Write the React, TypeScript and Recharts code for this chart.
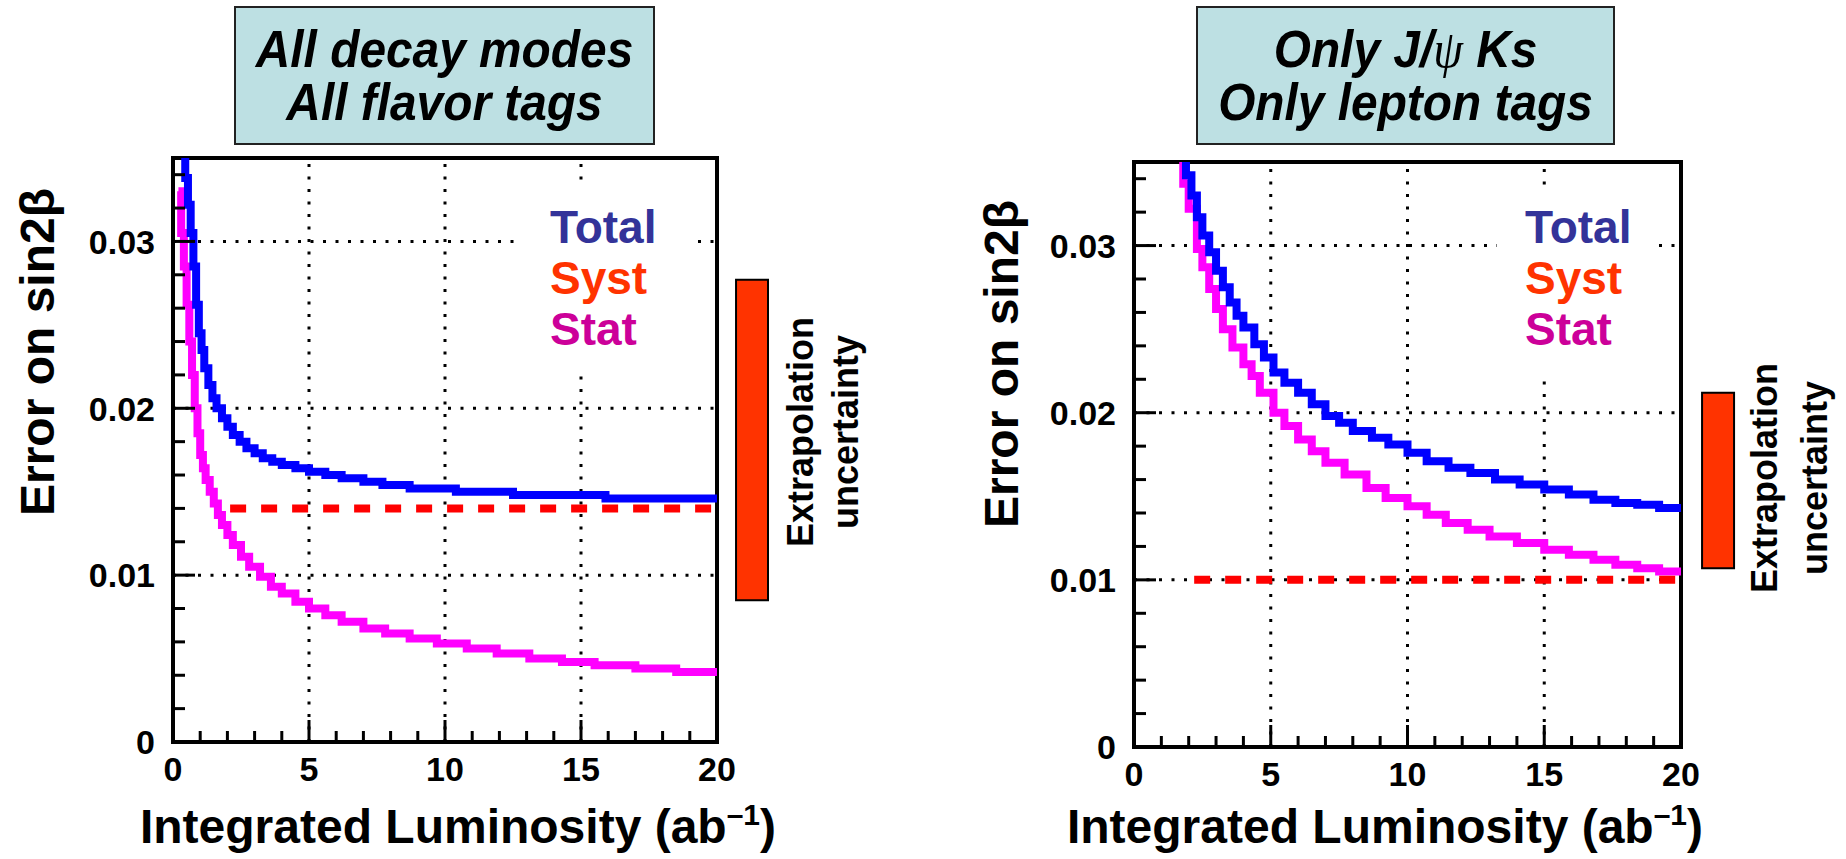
import React from 'react';
import { LineChart, Line, XAxis, YAxis, ReferenceLine, ReferenceArea } from 'recharts';

// ---- left panel: all decay modes, all flavor tags ----
const lumiTotalLeft = [0.3, 0.45, 0.55, 0.65, 0.75, 0.85, 0.95, 1.05, 1.15, 1.3, 1.45, 1.6, 1.8, 2.0, 2.2, 2.45, 2.7, 3.0, 3.3, 3.65, 4.0, 4.5, 5.0, 5.6, 6.2, 7.0, 7.7, 8.7, 10.4, 12.5, 15.9, 20];
const totalLeft = [0.036, 0.0338, 0.0322, 0.0305, 0.0285, 0.0262, 0.0245, 0.0235, 0.0224, 0.0214, 0.0206, 0.02, 0.0194, 0.0189, 0.0184, 0.018, 0.0176, 0.0173, 0.017, 0.0168, 0.0166, 0.0164, 0.0162, 0.016, 0.0158, 0.0156, 0.0154, 0.0152, 0.015, 0.0148, 0.0146, 0.0146];
const lumiStatLeft = [0.2, 0.3, 0.4, 0.5, 0.6, 0.7, 0.8, 0.9, 1.0, 1.1, 1.2, 1.35, 1.5, 1.65, 1.8, 2.0, 2.2, 2.5, 2.8, 3.2, 3.6, 4.0, 4.5, 5.0, 5.6, 6.2, 7.0, 7.8, 8.7, 9.7, 10.8, 11.9, 13.1, 14.3, 15.5, 17.0, 18.5, 20];
const statLeft = [0.033, 0.0305, 0.0285, 0.0262, 0.024, 0.022, 0.02, 0.0185, 0.0172, 0.0164, 0.0157, 0.015, 0.0143, 0.0136, 0.013, 0.0124, 0.0118, 0.0111, 0.0105, 0.0099, 0.0093, 0.0089, 0.0084, 0.008, 0.0076, 0.0072, 0.0068, 0.0065, 0.0062, 0.0059, 0.0056, 0.0053, 0.005, 0.0048, 0.0046, 0.0044, 0.0042, 0.0042];
const lumiSystLeft = [2.1, 20];
const systLeft = [0.014, 0.014];
const extrapLeft = [0.0085, 0.0277];

// ---- right panel: only J/psi Ks, only lepton tags ----
const lumiTotalRight = [1.75, 1.9, 2.1, 2.3, 2.5, 2.75, 3.0, 3.25, 3.5, 3.75, 4.0, 4.4, 4.75, 5.1, 5.5, 6.0, 6.5, 7.0, 7.5, 8.0, 8.7, 9.3, 10.0, 10.7, 11.5, 12.3, 13.2, 14.1, 15.0, 15.9, 16.8, 17.6, 18.4, 19.2, 20];
const totalRight = [0.0355, 0.0342, 0.033, 0.0317, 0.0306, 0.0296, 0.0285, 0.0275, 0.0266, 0.0258, 0.0251, 0.0241, 0.0233, 0.0224, 0.0218, 0.0212, 0.0205, 0.0198, 0.0194, 0.0189, 0.0185, 0.0181, 0.0176, 0.0171, 0.0167, 0.0164, 0.016, 0.0157, 0.0154, 0.0151, 0.0148, 0.0146, 0.0145, 0.0143, 0.0142];
const lumiStatRight = [1.6, 1.8, 2.0, 2.3, 2.5, 2.75, 3.0, 3.25, 3.6, 4.0, 4.3, 4.6, 5.1, 5.5, 6.0, 6.5, 7.0, 7.7, 8.5, 9.2, 10.0, 10.7, 11.4, 12.2, 13.0, 14.0, 15.0, 15.9, 16.8, 17.6, 18.4, 19.2, 20];
const statRight = [0.0355, 0.0337, 0.0322, 0.0298, 0.0287, 0.0274, 0.0262, 0.025, 0.0239, 0.0229, 0.0222, 0.0212, 0.02, 0.0192, 0.0184, 0.0177, 0.017, 0.0163, 0.0155, 0.0149, 0.0144, 0.0139, 0.0134, 0.013, 0.0126, 0.0122, 0.0118, 0.0115, 0.0112, 0.0109, 0.0107, 0.0105, 0.0103];
const lumiSystRight = [2.2, 20];
const systRight = [0.01, 0.01];
const extrapRight = [0.0107, 0.0212];

// ---- axes ----
const xTicks = [0, 1, 2, 3, 4, 5, 6, 7, 8, 9, 10, 11, 12, 13, 14, 15, 16, 17, 18, 19, 20];
const yTicks = [0, 0.002, 0.004, 0.006, 0.008, 0.01, 0.012, 0.014, 0.016, 0.018, 0.02, 0.022, 0.024, 0.026, 0.028, 0.03, 0.032, 0.034];
const xGrid = [5, 10, 15];
const yGrid = [0.01, 0.02, 0.03];
const legendNames = ['Total', 'Syst', 'Stat'];
const legendColors = ['#333399', '#ff3300', '#cc0099'];

const FONT = "'Liberation Sans', Arial, Helvetica, sans-serif";
const Y_TICK_GAP = 18;

const toPoints = (xs: number[], ys: number[]) => xs.map((x, i) => ({ x, y: ys[i] }));

const YTick = (props: any) => {
  const { x, y, payload } = props;
  const v = payload.value;
  const major = Math.abs(v * 100 - Math.round(v * 100)) < 1e-6;
  const ax = x + Y_TICK_GAP;
  return (
    <g>
      <line x1={ax} x2={ax + (major ? 22 : 12)} y1={y} y2={y} stroke="#000" strokeWidth={3} />
      {major && (
        <text x={x} y={y} dy="0.36em" textAnchor="end" fontFamily={FONT} fontWeight="bold" fontSize={34} fill="#000">
          {v === 0 ? '0' : v.toFixed(2)}
        </text>
      )}
    </g>
  );
};

const XTick = (props: any) => {
  const { x, y, payload } = props;
  const v = payload.value;
  const major = v % 5 === 0;
  return (
    <g>
      <line x1={x} x2={x} y1={y} y2={y - (major ? 22 : 11)} stroke="#000" strokeWidth={3} />
      {major && (
        <text x={x} y={y + 39} textAnchor="middle" fontFamily={FONT} fontWeight="bold" fontSize={34} fill="#000">
          {v}
        </text>
      )}
    </g>
  );
};

interface PanelProps {
  left: number;
  margin: { top: number; right: number; bottom: number; left: number };
  total: { x: number; y: number }[];
  stat: { x: number; y: number }[];
  syst: { x: number; y: number }[];
  band: number[];
  bandX: number[];
}

const Panel: React.FC<PanelProps> = ({ left, margin, total, stat, syst, band, bandX }) => (
  <div style={{ position: 'absolute', left, top: 0 }}>
    <LineChart width={923} height={859} margin={margin}>
      <XAxis
        type="number"
        dataKey="x"
        domain={[0, 20]}
        ticks={xTicks}
        interval={0}
        allowDataOverflow
        axisLine={false}
        tickLine={false}
        tickSize={0}
        tickMargin={0}
        height={60}
        tick={<XTick />}
      />
      <YAxis
        type="number"
        dataKey="y"
        domain={[0, 0.035]}
        ticks={yTicks}
        interval={0}
        allowDataOverflow
        axisLine={false}
        tickLine={false}
        tickSize={0}
        tickMargin={Y_TICK_GAP}
        width={60}
        tick={<YTick />}
      />
      {yGrid.map((v) => (
        <ReferenceLine key={'gy' + v} y={v} stroke="#000" strokeWidth={3} strokeDasharray="3 9.5" />
      ))}
      {xGrid.map((v) => (
        <ReferenceLine key={'gx' + v} x={v} stroke="#000" strokeWidth={3} strokeDasharray="3 9.5" />
      ))}
      <Line data={stat} dataKey="y" type="stepAfter" stroke="#ff00ff" strokeWidth={8} dot={false} activeDot={false} isAnimationActive={false} />
      <Line data={syst} dataKey="y" type="linear" stroke="#ff0000" strokeWidth={8} strokeDasharray="16 15" dot={false} activeDot={false} isAnimationActive={false} />
      <Line data={total} dataKey="y" type="stepAfter" stroke="#0000ff" strokeWidth={8} dot={false} activeDot={false} isAnimationActive={false} />
      <ReferenceArea x1={0} x2={20} y1={0} y2={0.035} fill="none" stroke="#000" strokeWidth={4} fillOpacity={0} ifOverflow="visible" />
      <ReferenceArea x1={bandX[0]} x2={bandX[1]} y1={band[0]} y2={band[1]} fill="#ff3300" fillOpacity={1} stroke="#000" strokeWidth={2} ifOverflow="visible" />
    </LineChart>
  </div>
);

const XLabel = ({ cx, y }: { cx: number; y: number }) => (
  <text x={cx} y={y} textAnchor="middle" fontFamily={FONT} fontWeight="bold" fontSize={48} fill="#000">
    <tspan>Integrated Luminosity (ab</tspan>
    <tspan dy={-18} fontSize={30}>–1</tspan>
    <tspan dy={18}>)</tspan>
  </text>
);

const YLabel = ({ x, cy }: { x: number; cy: number }) => (
  <text x={x} y={cy} textAnchor="middle" transform={`rotate(-90 ${x} ${cy})`} fontFamily={FONT} fontWeight="bold" fontSize={48} fill="#000">
    Error on sin2β
  </text>
);

const Extrap = ({ x1, x2, cy }: { x1: number; x2: number; cy: number }) => (
  <g fontFamily={FONT} fontWeight="bold" fontSize={36} fill="#000">
    <text x={x1} y={cy} textAnchor="middle" transform={`rotate(-90 ${x1} ${cy})`}>Extrapolation</text>
    <text x={x2} y={cy} textAnchor="middle" transform={`rotate(-90 ${x2} ${cy})`}>uncertainty</text>
  </g>
);

const LegendBox = ({ x, y, w, h, tx }: { x: number; y: number; w: number; h: number; tx: number }) => (
  <g>
    <rect x={x} y={y} width={w} height={h} fill="#fff" />
    {legendNames.map((n, i) => (
      <text key={n} x={tx} y={243 + i * 51} fontFamily={FONT} fontWeight="bold" fontSize={46} fill={legendColors[i]}>
        {n}
      </text>
    ))}
  </g>
);

// condensed italic title lines inside a box
const TitleBox = ({ x, w, lines }: { x: number; w: number; lines: React.ReactNode[] }) => (
  <g>
    <rect x={x} y={7} width={w} height={137} fill="#bde0e3" stroke="#222" strokeWidth={2} />
    <g transform={`translate(${x + w / 2} 0) scale(0.92 1)`} fontFamily={FONT} fontWeight="bold" fontStyle="italic" fontSize={52} fill="#000" textAnchor="middle">
      <text x={0} y={67}>{lines[0]}</text>
      <text x={0} y={120}>{lines[1]}</text>
    </g>
  </g>
);

export default function App() {
  return (
    <div style={{ position: 'absolute', left: 0, top: 0, width: 1846, height: 859, background: '#fff', overflow: 'hidden' }}>
      <Panel
        left={0}
        margin={{ top: 158, right: 206, bottom: 57, left: 113 }}
        total={toPoints(lumiTotalLeft, totalLeft)}
        stat={toPoints(lumiStatLeft, statLeft)}
        syst={toPoints(lumiSystLeft, systLeft)}
        band={extrapLeft}
        bandX={[20.7, 21.875]}
      />
      <Panel
        left={923}
        margin={{ top: 162, right: 165, bottom: 52, left: 151 }}
        total={toPoints(lumiTotalRight, totalRight)}
        stat={toPoints(lumiStatRight, statRight)}
        syst={toPoints(lumiSystRight, systRight)}
        band={extrapRight}
        bandX={[20.77, 21.94]}
      />
      <svg width={1846} height={859} style={{ position: 'absolute', left: 0, top: 0, pointerEvents: 'none' }}>
        <TitleBox x={235} w={419} lines={['All decay modes', 'All flavor tags']} />
        <TitleBox
          x={1197}
          w={417}
          lines={[
            <>
              Only J/<tspan fontFamily="'Liberation Serif', serif" fontWeight="normal">ψ</tspan> Ks
            </>,
            'Only lepton tags',
          ]}
        />

        <LegendBox x={521} y={183} w={172} h={184} tx={550} />
        <LegendBox x={1497} y={187} w={161} h={186} tx={1525} />

        <YLabel x={54} cy={352} />
        <YLabel x={1018} cy={364} />
        <XLabel cx={458} y={843} />
        <XLabel cx={1385} y={843} />

        <Extrap x1={813} x2={858} cy={432} />
        <Extrap x1={1777} x2={1827} cy={478} />
      </svg>
    </div>
  );
}
